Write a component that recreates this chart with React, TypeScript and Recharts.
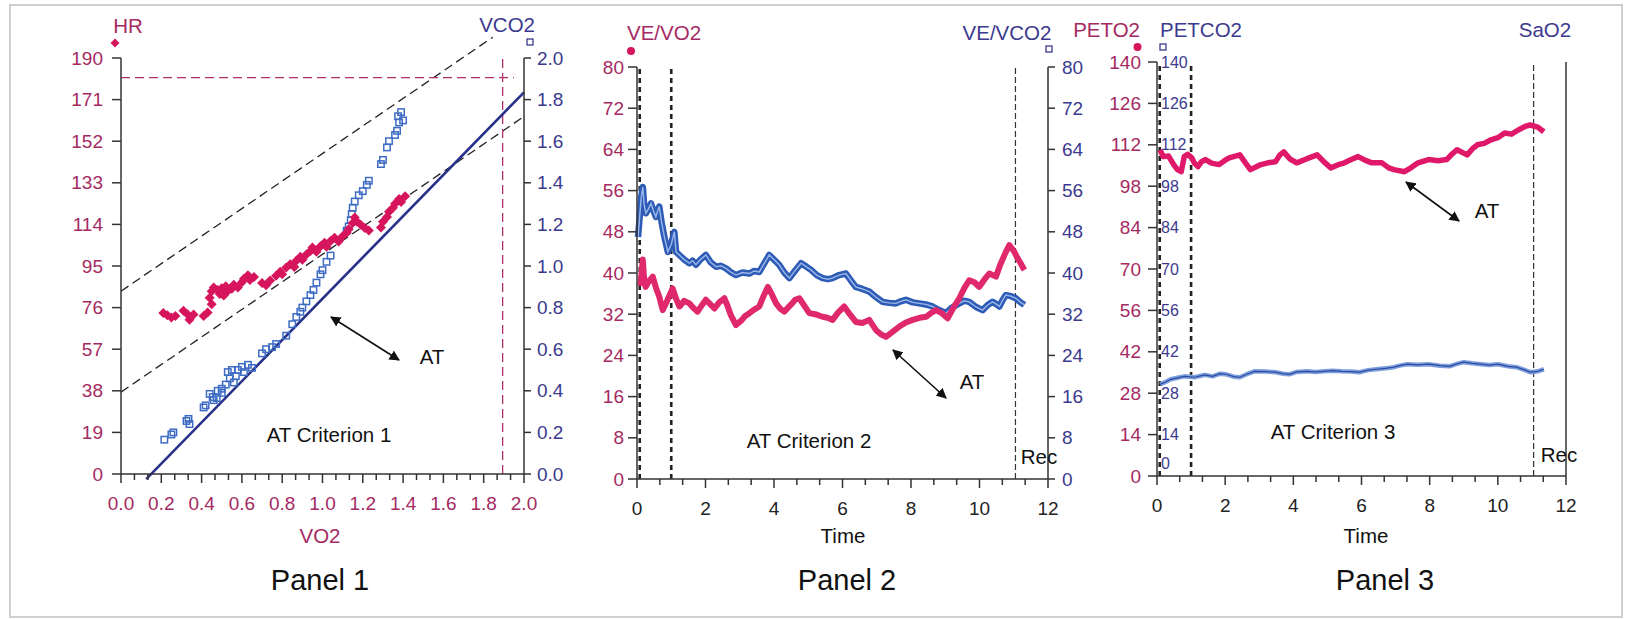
import React from 'react'
import { ComposedChart, Scatter, Line, XAxis, YAxis, ReferenceLine } from 'recharts'

const FONT = '"Liberation Sans", Arial, sans-serif'
const CRIMSON = '#a52a62'
const NAVY = '#3b3a8e'
const DOT_RED = '#d6155d'
const SQ_BLUE = '#3e6cc4'
const AXIS = '#333'

// ---- Panel 1 : HR & VCO2 vs VO2 ----
const vo2Major = [0, 0.2, 0.4, 0.6, 0.8, 1.0, 1.2, 1.4, 1.6, 1.8, 2.0]
const hrTicks = [0, 19, 38, 57, 76, 95, 114, 133, 152, 171, 190]
const vco2Ticks = [0, 0.2, 0.4, 0.6, 0.8, 1.0, 1.2, 1.4, 1.6, 1.8, 2.0]

const hrPoints: [number, number][] = [
  [0.21, 73.5], [0.23, 72.5], [0.25, 71.5], [0.27, 72.2], [0.31, 74.6], [0.33, 73], [0.34, 70.5],
  [0.36, 72.8], [0.41, 72.2], [0.43, 73.8], [0.45, 77.5], [0.44, 80.5], [0.45, 83.5], [0.46, 85.2],
  [0.48, 84], [0.49, 82.2], [0.5, 84.8], [0.51, 81.5], [0.52, 85.8], [0.53, 83.6], [0.55, 84.6],
  [0.56, 86.4], [0.58, 85.2], [0.6, 87.6], [0.61, 89.2], [0.63, 90.8], [0.64, 88.6], [0.66, 90],
  [0.7, 87.2], [0.72, 86.2], [0.74, 88.4], [0.77, 90.6], [0.79, 92.4], [0.8, 91.2], [0.82, 94.3],
  [0.84, 95.8], [0.86, 94.6], [0.87, 97.4], [0.89, 99.2], [0.9, 97.8], [0.92, 100.2], [0.94, 101.8],
  [0.95, 103.4], [0.97, 101.5], [0.99, 104], [1.01, 105.6], [1.02, 103.8], [1.04, 106.4], [1.06, 107.9],
  [1.08, 106.2], [1.1, 108.6], [1.12, 110.2], [1.13, 111.8], [1.15, 114.6], [1.16, 117.2], [1.17, 115.3],
  [1.19, 113.8], [1.21, 112.4], [1.23, 111.2], [1.29, 112.6], [1.3, 115.2], [1.32, 117.4], [1.33, 119.8],
  [1.35, 121.6], [1.36, 123.4], [1.38, 125.6], [1.39, 124.2], [1.41, 126.8],
]

const vco2Points: [number, number][] = [
  [0.215, 0.165], [0.25, 0.19], [0.26, 0.2], [0.325, 0.255], [0.335, 0.265], [0.34, 0.24], [0.41, 0.32],
  [0.42, 0.33], [0.44, 0.385], [0.455, 0.37], [0.46, 0.355], [0.475, 0.365], [0.48, 0.4], [0.5, 0.41],
  [0.5, 0.39], [0.52, 0.43], [0.53, 0.49], [0.54, 0.46], [0.55, 0.5], [0.56, 0.44], [0.57, 0.47],
  [0.58, 0.5], [0.6, 0.515], [0.61, 0.49], [0.63, 0.525], [0.65, 0.51], [0.7, 0.58], [0.72, 0.6],
  [0.75, 0.61], [0.77, 0.625], [0.82, 0.665], [0.85, 0.72], [0.87, 0.755], [0.89, 0.78], [0.9, 0.8],
  [0.92, 0.83], [0.94, 0.86], [0.955, 0.885], [0.97, 0.92], [0.99, 0.96], [1.0, 0.98], [1.02, 1.02],
  [1.04, 1.05], [1.12, 1.17], [1.13, 1.19], [1.14, 1.22], [1.145, 1.25], [1.15, 1.28], [1.16, 1.31],
  [1.18, 1.34], [1.2, 1.36], [1.22, 1.39], [1.23, 1.41], [1.29, 1.49], [1.3, 1.51], [1.32, 1.57],
  [1.33, 1.6], [1.36, 1.63], [1.37, 1.65], [1.375, 1.72], [1.38, 1.69], [1.39, 1.74], [1.4, 1.7],
]

const hrMax = 181
const vo2Max = 1.894
const upperBand = [{ x: 0, y: 83.5 }, { x: 1.845, y: 199.5 }]
const lowerBand = [{ x: 0, y: 37.4 }, { x: 2.0, y: 163.3 }]
const vco2Fit = [{ x: 0.125, y: -0.025 }, { x: 2.0, y: 1.835 }]

// ---- Panel 2 : ventilatory equivalents ----
const timeMajor = [0, 2, 4, 6, 8, 10, 12]
const ve80Ticks = [0, 8, 16, 24, 32, 40, 48, 56, 64, 72, 80]

const veVo2: [number, number][] = [
  [0.1, 37.5], [0.14, 40.5], [0.17, 42.6], [0.2, 39.5], [0.25, 37.3], [0.33, 38.2], [0.46, 39.3],
  [0.55, 37.2], [0.65, 35.4], [0.75, 32.8], [0.88, 34.6], [1.04, 37], [1.14, 35], [1.24, 33.5],
  [1.38, 34.6], [1.53, 34.1], [1.65, 33.2], [1.77, 32.5], [1.9, 33.8], [2.01, 34.8], [2.13, 34],
  [2.26, 33.1], [2.4, 34.3], [2.55, 35.1], [2.65, 33.5], [2.74, 31.8], [2.89, 29.9], [3.05, 30.8],
  [3.15, 31.6], [3.28, 32.2], [3.42, 32.9], [3.57, 33.5], [3.7, 35.6], [3.82, 37.3], [3.94, 35.8],
  [4.06, 34.1], [4.18, 33.1], [4.3, 32.5], [4.5, 33.9], [4.62, 34.8], [4.74, 35.1], [4.88, 33.7],
  [5.03, 32.2], [5.2, 32], [5.42, 31.5], [5.56, 31.3], [5.71, 30.9], [5.88, 32.4], [6.05, 33.5],
  [6.2, 32.1], [6.39, 30.5], [6.58, 30.3], [6.78, 30.9], [6.98, 28.9], [7.12, 28.1], [7.27, 27.6],
  [7.45, 28.5], [7.66, 29.6], [7.85, 30.4], [8.05, 30.9], [8.25, 31.3], [8.44, 31.5], [8.6, 32.3],
  [8.73, 32.8], [8.9, 32.2], [9.07, 31.2], [9.25, 33.4], [9.41, 35.1], [9.56, 37.1], [9.7, 38.6],
  [9.85, 38.2], [9.99, 37.3], [10.15, 38.8], [10.29, 39.9], [10.48, 39.3], [10.6, 41.5], [10.75, 43.8],
  [10.87, 45.4], [11.0, 44.3], [11.11, 42.9], [11.2, 41.9], [11.31, 40.6],
]

const veVco2: [number, number][] = [
  [0.03, 47], [0.08, 51], [0.12, 54.5], [0.17, 56.7], [0.21, 53.2], [0.26, 51.6], [0.33, 52.4],
  [0.41, 53.5], [0.48, 52.1], [0.55, 50.9], [0.6, 52], [0.65, 52.9], [0.72, 49.8], [0.8, 47],
  [0.9, 44.1], [1.0, 45.6], [1.09, 48], [1.14, 44.1], [1.25, 43.4], [1.38, 42.6], [1.53, 41.9],
  [1.62, 42.4], [1.72, 41.6], [1.85, 42.6], [2.01, 43.5], [2.15, 42.1], [2.31, 41.2], [2.45, 41.4],
  [2.6, 40.9], [2.75, 40.1], [2.89, 39.6], [3.08, 40.1], [3.28, 39.9], [3.42, 40.4], [3.57, 40.2],
  [3.72, 41.9], [3.86, 43.5], [4.0, 42.6], [4.15, 41.6], [4.3, 40.1], [4.45, 39], [4.62, 40.5],
  [4.79, 41.9], [4.93, 41.3], [5.08, 40.6], [5.25, 39.6], [5.42, 39], [5.57, 38.8], [5.71, 39],
  [5.9, 39.6], [6.1, 39.9], [6.25, 38.5], [6.39, 37.3], [6.58, 36.9], [6.78, 36.4], [6.98, 35.3],
  [7.17, 34.4], [7.36, 34.2], [7.56, 34.1], [7.7, 34.5], [7.85, 34.8], [8.05, 34.3], [8.24, 34.1],
  [8.43, 33.9], [8.63, 33.5], [8.82, 32.8], [9.02, 32.2], [9.2, 33.3], [9.41, 34.1], [9.55, 34.6],
  [9.7, 34.4], [9.9, 33.4], [10.09, 32.8], [10.24, 33.8], [10.38, 34.4], [10.48, 34], [10.58, 33.5],
  [10.68, 34.8], [10.77, 35.7], [10.92, 35.5], [11.06, 35.1], [11.2, 34.3], [11.31, 33.8],
]

const startMarks = [0.08, 1.0]
const recMark = 11.05

// ---- Panel 3 : end-tidal gases ----
const pet140Ticks = [0, 14, 28, 42, 56, 70, 84, 98, 112, 126, 140]
const sao2Ticks = [0, 10, 20, 30, 40, 50, 60, 70, 80, 90, 100]

const peto2: [number, number][] = [
  [0.09, 110.3], [0.18, 108], [0.34, 108.2], [0.49, 105.3], [0.6, 103.6], [0.71, 102.9], [0.8, 108],
  [0.9, 108.8], [1.02, 107.6], [1.1, 105.8], [1.2, 104.6], [1.3, 106.2], [1.42, 107], [1.6, 105.8],
  [1.82, 105.3], [2.0, 106.8], [2.12, 107.6], [2.3, 108.2], [2.43, 108.6], [2.6, 105.8], [2.74, 103.6],
  [2.9, 104.5], [3.05, 105.3], [3.25, 105.9], [3.48, 106.3], [3.6, 108.5], [3.72, 109.6], [3.9, 107.2],
  [4.1, 105.9], [4.4, 107.3], [4.7, 108.6], [4.9, 106.2], [5.1, 104.2], [5.3, 105.2], [5.5, 105.9],
  [5.7, 107], [5.9, 108], [6.1, 106.8], [6.3, 105.9], [6.6, 105.9], [6.8, 104.2], [6.95, 103.6],
  [7.26, 102.9], [7.45, 104.2], [7.66, 105.9], [7.97, 107], [8.25, 106.6], [8.5, 107], [8.65, 108.8],
  [8.8, 110.3], [9.1, 108.6], [9.25, 110.6], [9.4, 112], [9.6, 112.5], [9.8, 113.7], [10.0, 114.4],
  [10.2, 116], [10.4, 115.6], [10.6, 117], [10.8, 118.2], [10.95, 118.7], [11.17, 118], [11.35, 116.4],
]

const petco2: [number, number][] = [
  [0.09, 31], [0.25, 31.8], [0.4, 32.7], [0.6, 33.2], [0.8, 33.7], [1.1, 33.4], [1.4, 34.2], [1.63, 33.7],
  [1.85, 34.6], [2.03, 34.4], [2.25, 33.6], [2.43, 33.4], [2.65, 34.5], [2.86, 35.4], [3.2, 35.3],
  [3.48, 35.1], [3.7, 34.6], [3.88, 34.4], [4.1, 35.2], [4.4, 35.4], [4.65, 35.2], [4.9, 35.4],
  [5.15, 35.6], [5.42, 35.4], [5.7, 35.3], [5.94, 35.1], [6.2, 35.8], [6.43, 36.1], [6.7, 36.4],
  [6.95, 36.8], [7.15, 37.4], [7.35, 37.8], [7.65, 37.6], [7.97, 37.8], [8.3, 37.3], [8.58, 37.1],
  [8.8, 37.9], [9.0, 38.5], [9.25, 38.1], [9.5, 37.8], [9.75, 37.5], [10.0, 37.8], [10.3, 37.1],
  [10.55, 36.8], [10.8, 35.8], [10.95, 35.1], [11.17, 35.4], [11.35, 36.1],
]

const toXY = (pts: [number, number][]) => pts.map(([x, y]) => ({ x, y }))

// major ticks plus two minor ticks in every interval
const withMinor = (major: number[]) =>
  major.flatMap((v, i) => {
    if (i === major.length - 1) return [v]
    const step = (major[i + 1] - v) / 3
    return [v, v + step, v + 2 * step]
  })

const isMajor = (majors: number[], v: number) => majors.some(m => Math.abs(m - v) < 1e-6)

function XTick({ x, y, payload, majors, fmt, color }: any) {
  const major = isMajor(majors, payload.value)
  return (
    <g>
      <line x1={x} x2={x} y1={y} y2={y + (major ? 9 : 6)} stroke={AXIS} strokeWidth={1.5} />
      {major && (
        <text x={x} y={y + 29} dy="0.35em" textAnchor="middle" fill={color} fontSize={19} fontFamily={FONT}>
          {fmt(payload.value)}
        </text>
      )}
    </g>
  )
}

function LeftTick({ x, y, payload, color, gap, inner }: any) {
  return (
    <g>
      <line x1={x} x2={x - 9} y1={y} y2={y} stroke={AXIS} strokeWidth={1.5} />
      <text x={x - gap} y={y} dy="0.35em" textAnchor="end" fill={color} fontSize={19} fontFamily={FONT}>
        {payload.value}
      </text>
      {inner && (
        <text x={x + 4} y={payload.value === 0 ? y - 13 : y} dy="0.35em" textAnchor="start" fill={NAVY} fontSize={16} fontFamily={FONT}>
          {payload.value}
        </text>
      )}
    </g>
  )
}

function RightTick({ x, y, payload, gap, fmt }: any) {
  return (
    <g>
      <line x1={x} x2={x + 7} y1={y} y2={y} stroke={AXIS} strokeWidth={1.5} />
      <text x={x + gap} y={y} dy="0.35em" textAnchor="start" fill={NAVY} fontSize={19} fontFamily={FONT}>
        {fmt ? fmt(payload.value) : payload.value}
      </text>
    </g>
  )
}

const Diamond = ({ cx, cy }: any) => (
  <polygon points={`${cx},${cy - 5} ${cx + 5},${cy} ${cx},${cy + 5} ${cx - 5},${cy}`} fill={DOT_RED} />
)

const OpenSquare = ({ cx, cy }: any) => (
  <rect x={cx - 3.2} y={cy - 3.2} width={6.4} height={6.4} fill="none" stroke={SQ_BLUE} strokeWidth={1.5} />
)

const axisLine = { stroke: AXIS, strokeWidth: 1.5 }
const W = 1626
const H = 619
const layer: React.CSSProperties = { position: 'absolute', left: 0, top: 0 }

function Panel1() {
  return (
    <ComposedChart width={W} height={H} margin={{ top: 58, right: 1072, bottom: 115, left: 61 }}>
      <XAxis
        type="number" dataKey="x" domain={[0, 2]} ticks={withMinor(vo2Major)} interval={0} height={30}
        tickSize={0} tickMargin={0} tickLine={false} axisLine={axisLine}
        tick={(p: any) => <XTick {...p} majors={vo2Major} fmt={(v: number) => v.toFixed(1)} color={CRIMSON} />}
      />
      <YAxis
        yAxisId="hr" dataKey="y" type="number" domain={[0, 190]} ticks={hrTicks} interval={0} width={60}
        tickSize={0} tickMargin={0} tickLine={false} axisLine={axisLine}
        tick={(p: any) => <LeftTick {...p} color={CRIMSON} gap={18} />}
      />
      <YAxis
        yAxisId="vco2" orientation="right" dataKey="y" type="number" domain={[0, 2]} ticks={vco2Ticks} interval={0} width={30}
        tickSize={0} tickMargin={0} tickLine={false} axisLine={axisLine}
        tick={(p: any) => <RightTick {...p} gap={13} fmt={(v: number) => v.toFixed(1)} />}
      />
      <ReferenceLine yAxisId="hr" segment={upperBand} ifOverflow="visible" stroke="#222" strokeWidth={1.3} strokeDasharray="9 5" />
      <ReferenceLine yAxisId="hr" segment={lowerBand} ifOverflow="visible" stroke="#222" strokeWidth={1.3} strokeDasharray="9 5" />
      <ReferenceLine yAxisId="hr" segment={[{ x: 0, y: hrMax }, { x: 1.95, y: hrMax }]} ifOverflow="visible" stroke="#b0306e" strokeWidth={1.3} strokeDasharray="9 5" />
      <ReferenceLine yAxisId="hr" segment={[{ x: vo2Max, y: 0 }, { x: vo2Max, y: 190 }]} ifOverflow="visible" stroke="#b0306e" strokeWidth={1.3} strokeDasharray="9 5" />
      <ReferenceLine yAxisId="vco2" segment={vco2Fit} ifOverflow="visible" stroke="#27308a" strokeWidth={2.6} />
      <Scatter yAxisId="vco2" data={toXY(vco2Points)} shape={(p: any) => <OpenSquare {...p} />} isAnimationActive={false} />
      <Scatter yAxisId="hr" data={toXY(hrPoints)} shape={(p: any) => <Diamond {...p} />} isAnimationActive={false} />
    </ComposedChart>
  )
}

function Panel2() {
  return (
    <ComposedChart width={W} height={H} margin={{ top: 67, right: 548, bottom: 110, left: 577 }}>
      <XAxis
        type="number" dataKey="x" domain={[0, 12]} ticks={withMinor(timeMajor)} interval={0} height={30}
        tickSize={0} tickMargin={0} tickLine={false} axisLine={axisLine}
        tick={(p: any) => <XTick {...p} majors={timeMajor} fmt={(v: number) => Math.round(v)} color="#222" />}
      />
      <YAxis
        yAxisId="left" dataKey="y" type="number" domain={[0, 80]} ticks={ve80Ticks} interval={0} width={60}
        tickSize={0} tickMargin={0} tickLine={false} axisLine={axisLine}
        tick={(p: any) => <LeftTick {...p} color={CRIMSON} gap={13} />}
      />
      <YAxis
        yAxisId="right" orientation="right" dataKey="y" type="number" domain={[0, 80]} ticks={ve80Ticks} interval={0} width={30}
        tickSize={0} tickMargin={0} tickLine={false} axisLine={axisLine}
        tick={(p: any) => <RightTick {...p} gap={14} />}
      />
      {startMarks.map(t => (
        <ReferenceLine key={t} yAxisId="left" x={t} stroke="#222" strokeWidth={2.6} strokeDasharray="5 4" />
      ))}
      <ReferenceLine yAxisId="left" x={recMark} stroke="#333" strokeWidth={1.2} strokeDasharray="6 3" />
      <Line yAxisId="right" data={toXY(veVco2)} dataKey="y" stroke="#2d5bb5" strokeWidth={6.5} dot={false} activeDot={false} strokeLinejoin="round" isAnimationActive={false} />
      <Line yAxisId="right" data={toXY(veVco2)} dataKey="y" stroke="#9bb8ea" strokeWidth={1.4} dot={false} activeDot={false} isAnimationActive={false} />
      <Line yAxisId="left" data={toXY(veVo2)} dataKey="y" stroke="#e0286c" strokeWidth={6} dot={false} activeDot={false} strokeLinejoin="round" isAnimationActive={false} />
    </ComposedChart>
  )
}

function Panel3() {
  return (
    <ComposedChart width={W} height={H} margin={{ top: 62, right: 30, bottom: 113, left: 1097 }}>
      <XAxis
        type="number" dataKey="x" domain={[0, 12]} ticks={withMinor(timeMajor)} interval={0} height={30}
        tickSize={0} tickMargin={0} tickLine={false} axisLine={axisLine}
        tick={(p: any) => <XTick {...p} majors={timeMajor} fmt={(v: number) => Math.round(v)} color="#222" />}
      />
      <YAxis
        yAxisId="left" dataKey="y" type="number" domain={[0, 140]} ticks={pet140Ticks} interval={0} width={60}
        tickSize={0} tickMargin={0} tickLine={false} axisLine={axisLine}
        tick={(p: any) => <LeftTick {...p} color={CRIMSON} gap={16} inner />}
      />
      <YAxis
        yAxisId="sao2" orientation="right" dataKey="y" type="number" domain={[0, 100]} ticks={sao2Ticks} interval={0} width={30}
        tickSize={0} tickMargin={0} tickLine={false} axisLine={axisLine}
        tick={(p: any) => <RightTick {...p} gap={15} />}
      />
      {startMarks.map(t => (
        <ReferenceLine key={t} yAxisId="left" x={t} stroke="#222" strokeWidth={2.6} strokeDasharray="5 4" />
      ))}
      <ReferenceLine yAxisId="left" x={recMark} stroke="#333" strokeWidth={1.2} strokeDasharray="6 3" />
      <Line yAxisId="left" data={toXY(petco2)} dataKey="y" stroke="#7d9fdc" strokeWidth={4.5} dot={false} activeDot={false} strokeLinejoin="round" isAnimationActive={false} />
      <Line yAxisId="left" data={toXY(petco2)} dataKey="y" stroke="#2b4aa0" strokeWidth={1.2} dot={false} activeDot={false} isAnimationActive={false} />
      <Line yAxisId="left" data={toXY(peto2)} dataKey="y" stroke="#e0186a" strokeWidth={5.5} dot={false} activeDot={false} strokeLinejoin="round" isAnimationActive={false} />
    </ComposedChart>
  )
}

const txt = (x: number, y: number, s: string, fill = '#111', anchor = 'middle', size = 20.5) => (
  <text x={x} y={y} dy="0.35em" textAnchor={anchor as any} fill={fill} fontSize={size} fontFamily={FONT}>{s}</text>
)

const arrow = (x1: number, y1: number, x2: number, y2: number) => (
  <line x1={x1} y1={y1} x2={x2} y2={y2} stroke="#111" strokeWidth={1.6} markerStart="url(#ah)" markerEnd="url(#ah)" />
)

function Overlay() {
  return (
    <svg width={W} height={H} style={{ ...layer, pointerEvents: 'none' }}>
      <defs>
        <marker id="ah" viewBox="0 0 10 10" refX="9" refY="5" markerWidth="6.5" markerHeight="6.5" orient="auto-start-reverse">
          <path d="M0,0 L10,5 L0,10 z" fill="#111" />
        </marker>
      </defs>
      <rect x={10} y={5} width={1612} height={612} fill="none" stroke="#cfcfcf" strokeWidth={2} />

      {/* panel 1 */}
      {txt(128, 26, 'HR', CRIMSON)}
      <polygon points="115,38.5 119.5,43 115,47.5 110.5,43" fill={DOT_RED} />
      {txt(535, 25, 'VCO2', NAVY, 'end')}
      <rect x={527} y={39} width={6} height={6} fill="none" stroke={NAVY} strokeWidth={1.3} />
      {txt(432, 357, 'AT')}
      {arrow(331, 317, 399, 360)}
      {txt(329, 435, 'AT Criterion 1')}
      {txt(320, 536, 'VO2', CRIMSON)}
      {txt(320, 580, 'Panel 1', '#111', 'middle', 29)}

      {/* panel 2 */}
      {txt(664, 33, 'VE/VO2', CRIMSON)}
      <circle cx={631} cy={51} r={4} fill={DOT_RED} />
      {txt(1007, 33, 'VE/VCO2', NAVY)}
      <rect x={1046} y={46} width={6} height={6} fill="none" stroke={NAVY} strokeWidth={1.3} />
      {txt(972, 382, 'AT')}
      {arrow(893, 350, 946, 398)}
      {txt(809, 441, 'AT Criterion 2')}
      {txt(1039, 457, 'Rec')}
      {txt(843, 536, 'Time')}
      {txt(847, 580, 'Panel 2', '#111', 'middle', 29)}

      {/* panel 3 */}
      {txt(1140, 30, 'PETO2', CRIMSON, 'end')}
      <circle cx={1137.5} cy={47} r={4} fill={DOT_RED} />
      {txt(1160, 30, 'PETCO2', NAVY, 'start')}
      <rect x={1160} y={44} width={6} height={6} fill="none" stroke={NAVY} strokeWidth={1.3} />
      {txt(1545, 30, 'SaO2', NAVY)}
      {txt(1487, 211, 'AT')}
      {arrow(1406, 182, 1459, 221)}
      {txt(1333, 432, 'AT Criterion 3')}
      {txt(1559, 455, 'Rec')}
      {txt(1366, 536, 'Time')}
      {txt(1385, 580, 'Panel 3', '#111', 'middle', 29)}
    </svg>
  )
}

export default function App() {
  return (
    <div style={{ position: 'absolute', left: 0, top: 0, width: W, height: H, background: '#fff', overflow: 'hidden', fontFamily: FONT }}>
      <div style={layer}><Panel1 /></div>
      <div style={layer}><Panel2 /></div>
      <div style={layer}><Panel3 /></div>
      <Overlay />
    </div>
  )
}
